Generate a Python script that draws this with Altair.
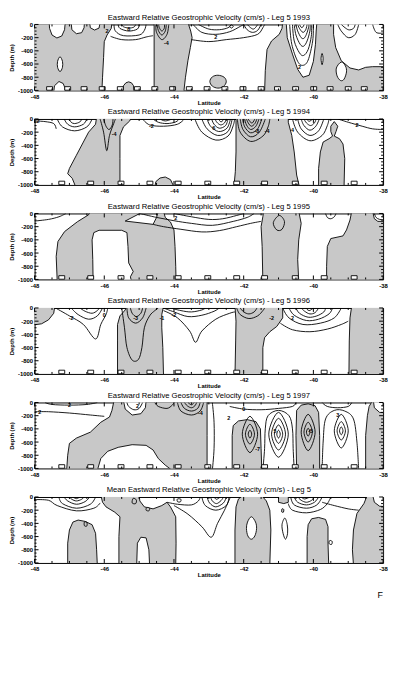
import altair as alt
import pandas as pd

W, H = 354, 67
FONT = "Liberation Sans"
GRAY = "#c8c8c8"

TITLES = [
    "Eastward Relative Geostrophic Velocity (cm/s) - Leg 5 1993",
    "Eastward Relative Geostrophic Velocity (cm/s) - Leg 5 1994",
    "Eastward Relative Geostrophic Velocity (cm/s) - Leg 5 1995",
    "Eastward Relative Geostrophic Velocity (cm/s) - Leg 5 1996",
    "Eastward Relative Geostrophic Velocity (cm/s) - Leg 5 1997",
    "Mean Eastward Relative Geostrophic Velocity (cm/s) - Leg 5",
]
X_TICKS = [-48, -46, -44, -42, -40, -38]
X_MINOR = [-47.5, -47, -46.5, -45.5, -45, -44.5, -43.5, -43, -42.5, -41.5, -41, -40.5, -39.5, -39, -38.5]
Y_TICKS = [0, -200, -400, -600, -800, -1000]
Y_MINOR = [-50, -100, -150, -250, -300, -350, -450, -500, -550, -650, -700, -750, -850, -900, -950]
STATION_DEPTH = -1000
STATIONS_1993 = [-47.57, -47.05, -46.58, -46.06, -45.54, -45.05, -44.55, -44.04, -43.56, -43.05,
                 -42.54, -42.02, -41.5, -41.03, -40.51, -39.99, -39.52, -39.0, -38.54]
STATIONS_LEG5 = [-47.22, -46.39, -45.52, -44.69, -43.88, -43.03, -42.2, -41.4, -40.52, -39.69, -38.83]

# ---------------- 1993 ----------------
P1_GRAY = [
    [-48.2, 30, -45.78, 30, -45.8, -60, -45.92, -160, -46.0, -260, -46.02, -500, -46.05, -800, -46.07, -1030, -48.2, -1030],
    [-45.46, -1030, -45.45, -930, -45.38, -885, -45.3, -870, -45.22, -885, -45.16, -930, -45.15, -1030],
    [-44.57, 30, -43.6, 30, -43.52, -100, -43.48, -200, -43.53, -350, -43.6, -550, -43.67, -800, -43.72, -1030, -44.57, -1030],
    [-41.4, -1030, -41.38, -700, -41.33, -380, -41.2, -250, -40.98, -150, -40.9, -60, -40.88, 30, -37.8, 30, -37.8, -1030],
]
P1_GRAY_ROUND = [
    [-42.74, -770, -42.56, -800, -42.5, -870, -42.58, -940, -42.74, -965, -42.9, -935, -42.97, -865, -42.9, -795],
]
P1_WHITE = [
    [-47.58, 30, -47.57, -60, -47.5, -160, -47.36, -205, -47.22, -175, -47.14, -80, -47.12, 30],
    [-46.95, 30, -46.93, -80, -46.8, -140, -46.65, -125, -46.58, -50, -46.57, 30],
    [-46.42, 30, -46.4, -50, -46.28, -85, -46.15, -55, -46.12, 30],
    [-47.45, -1030, -47.43, -930, -47.3, -865, -47.18, -895, -47.13, -960, -47.12, -1030],
    [-40.78, 30, -40.75, -200, -40.6, -450, -40.45, -680, -40.3, -800, -40.12, -770, -40.0, -560, -39.94, -300, -39.92, -100, -39.9, 30],
    [-39.42, 30, -39.42, -150, -39.36, -350, -39.2, -550, -38.95, -660, -38.7, -690, -38.5, -650, -38.3, -640, -37.8, -640, -37.8, 30],
]
P1_WHITE_ROUND = [
    [-47.27, -490, -47.2, -560, -47.2, -650, -47.27, -715, -47.34, -650, -47.34, -560],
    [-39.2, -570, -39.08, -630, -39.05, -720, -39.12, -830, -39.22, -850, -39.32, -780, -39.34, -660],
    [-39.75, -440, -39.72, -520, -39.75, -610, -39.78, -520],
]
P1_LINES = [
    [-45.6, 0, -45.55, -60, -45.3, -100, -45.05, -70, -45.0, 0],
    [-45.5, 0, -45.45, -35, -45.3, -55, -45.15, -40, -45.1, 0],
    [-45.72, 0, -45.68, -100, -45.45, -170, -45.0, -160, -44.85, -90, -44.8, 0],
    [-45.82, -180, -45.5, -230, -45.1, -230, -44.8, -190, -44.6, -170],
    [-44.52, 0, -44.5, -120, -44.35, -230, -44.2, -150, -44.15, 0],
    [-44.48, 0, -44.45, -90, -44.35, -160, -44.25, -100, -44.22, 0],
    [-44.44, 0, -44.42, -50, -44.35, -100, -44.28, -60, -44.27, 0],
    [-43.45, 0, -43.2, -120, -42.8, -150, -42.4, -110, -42.1, -30, -42.0, 0],
    [-43.3, 0, -43.0, -70, -42.7, -80, -42.45, -50, -42.35, 0],
    [-43.5, -230, -43.0, -260, -42.5, -230, -42.0, -200, -41.6, -150, -41.45, -50, -41.4, 0],
    [-42.0, 0, -41.9, -80, -41.75, -120, -41.6, -90, -41.5, 0],
    [-41.9, 0, -41.8, -50, -41.72, -70, -41.65, -40, -41.6, 0],
    [-40.68, 0, -40.62, -300, -40.45, -560, -40.3, -620, -40.15, -540, -40.02, -250, -40.0, 0],
    [-40.6, 0, -40.55, -250, -40.4, -430, -40.28, -470, -40.15, -380, -40.06, -180, -40.05, 0],
    [-40.55, 0, -40.5, -160, -40.38, -300, -40.28, -330, -40.18, -250, -40.1, -100, -40.09, 0],
    [-40.5, 0, -40.45, -100, -40.35, -200, -40.27, -210, -40.2, -150, -40.14, -50, -40.13, 0],
    [-40.45, 0, -40.4, -60, -40.3, -120, -40.22, -80, -40.18, 0],
    [-40.4, 0, -40.33, -50, -40.26, 0],
    [-39.3, 0, -39.2, -100, -39.0, -200, -38.8, -150, -38.7, 0],
    [-39.2, 0, -39.0, -80, -38.85, -60, -38.8, 0],
    [-38.3, 0, -38.2, -120, -38.0, -130],
]
P1_LOOPS = [
    [-42.35, -5, -42.3, -30, -42.35, -55, -42.4, -30],
]
P1_LABELS = [("2", -42.8, -185), ("-4", -44.22, -280), ("8", -45.3, -75), ("2", -40.4, -650), ("2", -45.92, -95)]

# ---------------- 1994 ----------------
P2_GRAY = [
    [-46.22, 30, -46.25, -80, -46.45, -200, -46.6, -350, -46.8, -550, -47.0, -750, -47.05, -830, -46.92, -900, -46.82, -1030,
     -45.55, -1030, -45.55, -600, -45.55, -250, -45.45, -120, -45.27, -30, -45.22, 30],
    [-44.55, -1030, -44.52, -950, -44.4, -895, -44.25, -880, -44.1, -920, -44.0, -1030],
    [-42.22, 30, -42.22, -500, -42.24, -800, -42.28, -1030, -40.4, -1030, -40.48, -850, -40.55, -500, -40.62, -250, -40.72, -50, -40.72, 30],
    [-39.4, -40, -39.3, -110, -39.35, -190, -39.4, -260, -39.25, -300, -39.15, -380, -39.1, -600, -39.12, -1030,
     -39.85, -1030, -39.85, -750, -39.8, -500, -39.72, -350, -39.55, -300, -39.45, -260, -39.5, -190, -39.5, -110],
]
P2_GRAY_ROUND = []
P2_WHITE = []
P2_WHITE_ROUND = []
P2_LINES = [
    [-47.35, 0, -47.2, -120, -46.85, -180, -46.5, -120, -46.35, 0],
    [-47.15, 0, -47.05, -80, -46.85, -120, -46.6, -80, -46.5, 0],
    [-47.0, 0, -46.95, -50, -46.85, -70, -46.7, -45, -46.65, 0],
    [-48.0, -30, -47.7, -40, -47.45, -70, -47.38, -150],
    [-46.12, 0, -46.02, -200, -45.93, -480, -45.85, -250, -45.73, -70, -45.68, 0],
    [-46.02, 0, -45.95, -110, -45.86, -160, -45.77, -90, -45.75, 0],
    [-44.9, 0, -44.7, -90, -44.3, -110, -43.9, -80, -43.7, 0],
    [-44.6, 0, -44.45, -50, -44.2, -70, -43.95, -45, -43.85, 0],
    [-44.4, 0, -44.25, -30, -44.05, 0],
    [-43.4, 0, -43.2, -200, -42.8, -320, -42.45, -260, -42.3, -100, -42.26, 0],
    [-43.2, 0, -43.05, -150, -42.75, -250, -42.45, -190, -42.33, 0],
    [-43.05, 0, -42.95, -110, -42.72, -190, -42.48, -140, -42.38, 0],
    [-42.92, 0, -42.85, -80, -42.7, -140, -42.52, -100, -42.45, 0],
    [-42.82, 0, -42.77, -50, -42.66, -90, -42.55, -60, -42.5, 0],
    [-42.72, 0, -42.65, -45, -42.56, 0],
    [-42.18, 0, -42.1, -200, -41.8, -340, -41.45, -260, -41.3, -120, -41.25, 0],
    [-42.1, 0, -42.02, -160, -41.8, -270, -41.55, -200, -41.38, 0],
    [-42.03, 0, -41.97, -120, -41.8, -210, -41.6, -150, -41.48, 0],
    [-41.97, 0, -41.92, -90, -41.8, -160, -41.65, -110, -41.56, 0],
    [-41.92, 0, -41.87, -60, -41.78, -110, -41.68, -70, -41.62, 0],
    [-41.87, 0, -41.82, -40, -41.75, -60, -41.68, 0],
    [-40.6, 0, -40.45, -200, -40.1, -330, -39.75, -250, -39.6, -100, -39.55, 0],
    [-40.45, 0, -40.35, -150, -40.1, -250, -39.85, -180, -39.7, 0],
    [-40.35, 0, -40.27, -100, -40.1, -170, -39.93, -110, -39.83, 0],
    [-40.27, 0, -40.2, -60, -40.08, -100, -39.97, -60, -39.92, 0],
    [-40.2, 0, -40.12, -35, -40.02, 0],
    [-39.3, 0, -39.0, -50, -38.6, -110, -38.3, -150, -38.0, -160],
]
P2_LOOPS = []
P2_LABELS = [("2", -47.9, -25), ("-4", -45.72, -230), ("-2", -44.65, -110), ("6", -42.86, -140),
             ("-8", -41.62, -190), ("-4", -41.33, -190), ("4", -40.6, -170), ("2", -38.75, -90)]

# ---------------- 1995 ----------------
P3_GRAY = [
    [-46.39, 30, -44.98, 30, -44.98, 0, -45.4, -115, -44.6, -165, -44.5, -60, -44.45, 30, -44.3, 30, -44.25, -60, -44.1, -130,
     -44.0, -250, -43.97, -500, -43.95, -800, -43.94, -1030, -47.35, -1030, -47.38, -650, -47.33, -425, -47.14, -275,
     -46.77, -125, -46.45, -20],
    [-41.43, 30, -40.42, 30, -40.35, -150, -40.42, -400, -40.45, -700, -40.42, -1030, -41.45, -1030, -41.47, -500, -41.5, -200, -41.45, -50],
    [-39.62, -1030, -39.62, -800, -39.6, -500, -39.5, -380, -39.15, -340, -39.05, -250, -38.95, -100, -38.9, 30, -38.3, 30,
     -38.25, -80, -38.15, -120, -37.8, -120, -37.8, -1030],
]
P3_GRAY_ROUND = []
P3_WHITE = [
    [-46.32, -1030, -46.33, -700, -46.35, -400, -46.3, -290, -46.15, -255, -45.5, -255, -45.35, -290, -45.32, -500,
     -45.3, -750, -45.17, -880, -45.25, -960, -45.22, -1030],
]
P3_WHITE_ROUND = []
P3_LINES = [
    [-48.0, -115, -47.6, -90, -47.3, -50, -47.1, 0],
    [-44.6, -165, -44.3, -200, -43.8, -240, -43.2, -280, -42.7, -260, -42.2, -200, -41.8, -150, -41.5, -120],
    [-44.98, 0, -44.5, -60, -44.0, -110, -43.5, -150, -42.9, -180, -42.3, -120, -41.9, -60, -41.7, 0],
    [-44.0, 0, -43.5, -50, -43.0, -90, -42.6, -80, -42.2, -30, -42.0, 0],
    [-39.65, 0, -39.6, -60, -39.5, -80, -39.4, -50, -39.35, 0],
    [-38.25, 0, -38.2, -60, -38.1, -90, -37.95, -100],
]
P3_LOOPS = [
    [-40.98, -30, -40.83, -120, -40.9, -240, -41.05, -250, -41.15, -140],
]
P3_LABELS = [("2", -43.95, -70)]

# ---------------- 1996 ----------------
P4_GRAY = [
    [-48.2, 30, -47.42, 30, -47.45, -80, -47.6, -180, -47.8, -240, -48.2, -270],
    [-45.62, -1030, -45.62, -500, -45.62, -250, -45.55, -120, -45.4, -30, -45.35, 30, -44.3, 30, -44.35, -100, -44.35, -300, -44.32, -600, -44.3, -1030],
    [-42.25, 30, -40.88, 30, -40.88, -150, -41.05, -280, -41.25, -360, -41.4, -450, -41.45, -600, -41.45, -1030, -42.25, -1030, -42.23, -500, -42.22, -200],
    [-38.9, 30, -38.95, -150, -38.97, -500, -38.98, -1030, -37.8, -1030, -37.8, 30],
]
P4_GRAY_ROUND = []
P4_WHITE = []
P4_WHITE_ROUND = []
P4_LINES = [
    [-47.4, 0, -47.0, -120, -46.6, -250, -46.25, -470, -46.1, -250, -45.95, -100, -45.9, 0],
    [-46.95, 0, -46.75, -100, -46.45, -170, -46.2, -120, -46.05, 0],
    [-46.7, 0, -46.55, -50, -46.35, -80, -46.2, -40, -46.15, 0],
    [-45.35, 0, -45.3, -150, -45.1, -230, -44.9, -150, -44.8, 0],
    [-45.25, 0, -45.2, -80, -45.08, -130, -44.95, -80, -44.9, 0],
    [-45.5, 0, -45.42, -300, -45.35, -600, -45.2, -790, -45.02, -780, -44.92, -600, -44.85, -300, -44.7, -120, -44.55, -40, -44.45, 0],
    [-44.3, -40, -43.9, -150, -43.55, -350, -43.38, -520, -43.2, -350, -42.8, -170, -42.4, -80, -42.25, -60],
    [-44.3, 0, -44.0, -60, -43.6, -130, -43.2, -110, -42.85, -50, -42.7, 0],
    [-44.1, 0, -43.8, -40, -43.5, -60, -43.2, -30, -43.1, 0],
    [-42.2, 0, -42.1, -100, -41.85, -160, -41.6, -120, -41.45, -40, -41.4, 0],
    [-42.1, 0, -42.0, -60, -41.85, -90, -41.7, -60, -41.62, 0],
    [-40.88, 0, -40.7, -150, -40.3, -250, -39.8, -230, -39.4, -150, -39.2, 0],
    [-40.7, 0, -40.55, -110, -40.2, -190, -39.85, -170, -39.55, -90, -39.45, 0],
    [-40.5, 0, -40.4, -80, -40.15, -140, -39.9, -120, -39.7, -60, -39.65, 0],
    [-40.35, 0, -40.25, -50, -40.1, -90, -39.95, -70, -39.85, 0],
    [-40.22, 0, -40.12, -40, -40.0, 0],
    [-40.95, -230, -40.6, -330, -40.1, -360, -39.6, -320, -39.2, -250, -39.0, -200],
]
P4_LOOPS = []
P4_LABELS = [("-2", -46.95, -150), ("0", -46.0, -110), ("-3", -45.1, -160), ("-1", -44.35, -160),
             ("-2", -44.0, -100), ("-2", -41.2, -150), ("2", -40.6, -160)]

# ---------------- 1997 ----------------
P5_GRAY = [
    [-47.08, -1030, -47.05, -800, -47.0, -620, -46.8, -540, -46.4, -450, -46.1, -300, -45.85, -220, -45.78, -120, -45.72, 30,
     -43.05, 30, -43.05, -500, -43.05, -1030, -44.05, -1030, -44.25, -950, -44.45, -850, -44.6, -720, -44.8, -650, -45.2, -640,
     -45.6, -680, -45.9, -740, -46.1, -850, -46.2, -1030],
    [-42.33, -1030, -42.33, -500, -42.3, -350, -42.15, -280, -41.9, -260, -41.65, -290, -41.52, -400, -41.5, -700, -41.48, -1030],
    [-40.48, -1030, -40.5, -500, -40.48, -120, -40.35, -40, -40.15, -20, -39.95, -50, -39.85, -150, -39.82, -500, -39.82, -1030],
    [-38.5, -1030, -38.5, -500, -38.45, -200, -38.4, -60, -38.3, 30, -37.8, 30, -37.8, -1030],
]
P5_GRAY_ROUND = []
P5_WHITE = [
    [-45.45, 30, -45.4, -100, -45.2, -190, -44.95, -170, -44.82, -80, -44.8, 30],
    [-38.28, 30, -38.25, -80, -38.1, -150, -37.8, -160, -37.8, 30],
]
P5_WHITE_ROUND = []
P5_LINES = [
    [-48.0, -140, -47.6, -140, -47.0, -160, -46.4, -190, -46.0, -210],
    [-47.7, 0, -47.5, -30, -47.0, -40, -46.5, -30, -46.2, 0],
    [-45.35, 0, -45.3, -60, -45.15, -110, -45.0, -90, -44.9, 0],
    [-44.55, 0, -44.45, -60, -44.2, -90, -44.05, -40, -44.0, 0],
    [-43.9, 0, -43.8, -130, -43.5, -190, -43.25, -130, -43.15, 0],
    [-43.8, 0, -43.7, -90, -43.5, -130, -43.32, -90, -43.25, 0],
    [-43.7, 0, -43.62, -50, -43.5, -80, -43.4, -50, -43.35, 0],
    [-43.6, 0, -43.5, -35, -43.42, 0],
    [-42.9, 0, -42.85, -300, -42.85, -700, -42.9, -1030],
    [-42.4, -60, -42.0, -100, -41.5, -110, -41.0, -90, -40.6, -60, -40.5, 0],
    [-41.45, -1030, -41.4, -700, -41.38, -400, -41.3, -200, -41.0, -120, -40.7, -200, -40.6, -400, -40.58, -700, -40.55, -1030],
    [-39.75, -1030, -39.72, -600, -39.65, -250, -39.4, -120, -39.1, -130, -38.85, -250, -38.75, -600, -38.7, -1030],
    [-39.75, 0, -39.6, -60, -39.3, -80, -39.0, -60, -38.9, 0],
]
P5_LOOPS = [
    [-41.82, -420, -41.77, -480, -41.82, -540, -41.87, -480],
    [-41.82, -330, -41.69, -480, -41.82, -630, -41.95, -480],
    [-41.82, -210, -41.6, -480, -41.82, -760, -42.04, -480],
    [-41.0, -420, -40.95, -480, -41.0, -540, -41.05, -480],
    [-41.0, -340, -40.88, -480, -41.0, -620, -41.12, -480],
    [-41.0, -240, -40.8, -480, -41.0, -720, -41.2, -480],
    [-41.0, -150, -40.72, -480, -41.0, -830, -41.28, -480],
    [-40.15, -390, -40.1, -450, -40.15, -510, -40.2, -450],
    [-40.15, -300, -40.03, -450, -40.15, -600, -40.27, -450],
    [-40.15, -180, -39.95, -450, -40.15, -730, -40.35, -450],
    [-39.2, -370, -39.15, -430, -39.2, -490, -39.25, -430],
    [-39.2, -290, -39.08, -430, -39.2, -570, -39.32, -430],
    [-39.2, -180, -39.0, -430, -39.2, -690, -39.4, -430],
]
P5_LABELS = [("2", -47.85, -140), ("2", -47.0, -45), ("2", -45.05, -60), ("-4", -43.24, -165), ("2", -42.43, -240),
             ("0", -42.0, -100), ("-7", -41.6, -700), ("5", -41.1, -440), ("-5", -40.08, -440), ("3", -39.3, -190)]

# ---------------- Mean ----------------
P6_GRAY = [
    [-47.05, -1030, -47.05, -700, -47.0, -500, -46.9, -380, -46.75, -350, -46.55, -370, -46.35, -420, -46.25, -550, -46.22, -800, -46.2, -1030],
    [-46.1, 30, -45.0, 30, -44.98, -60, -44.85, -150, -44.6, -180, -44.35, -130, -44.2, -80, -44.1, -150, -43.95, -300, -43.94, -700,
     -43.95, -1030, -44.7, -1030, -44.72, -800, -44.8, -620, -44.95, -610, -45.05, -700, -45.07, -1030, -45.58, -1030,
     -45.58, -600, -45.55, -300, -45.7, -230, -45.95, -150, -46.05, -80],
    [-42.25, -1030, -42.25, -500, -42.22, -150, -42.15, -30, -42.0, 30, -41.5, 30, -41.35, -60, -41.25, -200, -41.22, -500, -41.25, -1030],
    [-41.0, 30, -41.0, -80, -40.85, -100, -40.72, -80, -40.72, 30],
    [-40.18, -1030, -40.18, -600, -40.15, -420, -40.05, -330, -39.85, -310, -39.65, -340, -39.58, -450, -39.58, -700, -39.56, -1030],
    [-38.45, 30, -38.55, -100, -38.75, -250, -38.85, -500, -38.88, -800, -38.85, -1030, -37.8, -1030, -37.8, 30],
]
P6_GRAY_ROUND = [
    [-40.9, -180, -40.85, -190, -40.86, -230, -40.91, -225],
    [-44.78, -160, -44.7, -170, -44.72, -210, -44.8, -200],
]
P6_WHITE = [
    [-38.3, 30, -38.25, -80, -38.1, -140, -37.8, -150, -37.8, 30],
]
P6_WHITE_ROUND = [
    [-41.78, -300, -41.66, -380, -41.63, -480, -41.68, -590, -41.78, -640, -41.88, -590, -41.92, -480, -41.89, -380],
]
P6_LINES = [
    [-47.3, 0, -47.2, -100, -46.8, -170, -46.4, -110, -46.25, 0],
    [-47.15, 0, -47.05, -60, -46.8, -110, -46.55, -70, -46.42, 0],
    [-47.0, 0, -46.93, -35, -46.8, -60, -46.65, -35, -46.58, 0],
    [-46.9, 0, -46.8, -25, -46.7, 0],
    [-48.0, -40, -47.6, -50, -47.35, -130, -46.8, -210, -46.3, -170, -46.12, -90],
    [-44.0, -130, -43.6, -260, -43.2, -450, -42.93, -610, -42.75, -400, -42.55, -200, -42.38, 0],
    [-43.2, 0, -43.1, -130, -42.8, -200, -42.5, -130, -42.42, 0],
    [-43.05, 0, -42.98, -90, -42.8, -150, -42.58, -90, -42.5, 0],
    [-42.95, 0, -42.9, -60, -42.78, -100, -42.65, -55, -42.58, 0],
    [-42.85, 0, -42.78, -35, -42.67, 0],
    [-44.2, -80, -43.9, -110, -43.5, -120, -43.3, -60, -43.25, 0],
    [-40.72, -100, -40.6, -200, -40.2, -240, -39.8, -190, -39.6, -100, -39.5, 0],
    [-40.65, 0, -40.55, -120, -40.2, -170, -39.9, -120, -39.75, 0],
    [-40.55, 0, -40.45, -80, -40.2, -120, -39.97, -80, -39.85, 0],
    [-40.45, 0, -40.35, -50, -40.2, -80, -40.05, -50, -39.98, 0],
    [-40.35, 0, -40.25, -30, -40.1, 0],
    [-39.75, -80, -39.4, -130, -39.0, -180, -38.7, -200],
]
P6_LOOPS = [
    [-40.82, -320, -40.75, -420, -40.74, -550, -40.8, -640, -40.87, -550, -40.9, -420],
    [-45.17, -20, -45.08, -45, -45.1, -100, -45.2, -90],
    [-43.9, -30, -43.8, -35, -43.82, -75, -43.9, -70],
    [-39.53, -660, -39.46, -675, -39.48, -720, -39.55, -705],
    [-46.57, -380, -46.5, -385, -46.5, -440, -46.57, -435],
]
P6_LABELS = []
F_MARK = ("F", -38.08, -1480)

PANELS = [
    dict(title=TITLES[0], gray=P1_GRAY, gray_round=P1_GRAY_ROUND, white=P1_WHITE, white_round=P1_WHITE_ROUND,
         lines=P1_LINES, loops=P1_LOOPS, labels=P1_LABELS, stations=STATIONS_1993),
    dict(title=TITLES[1], gray=P2_GRAY, gray_round=P2_GRAY_ROUND, white=P2_WHITE, white_round=P2_WHITE_ROUND,
         lines=P2_LINES, loops=P2_LOOPS, labels=P2_LABELS, stations=STATIONS_LEG5),
    dict(title=TITLES[2], gray=P3_GRAY, gray_round=P3_GRAY_ROUND, white=P3_WHITE, white_round=P3_WHITE_ROUND,
         lines=P3_LINES, loops=P3_LOOPS, labels=P3_LABELS, stations=STATIONS_LEG5),
    dict(title=TITLES[3], gray=P4_GRAY, gray_round=P4_GRAY_ROUND, white=P4_WHITE, white_round=P4_WHITE_ROUND,
         lines=P4_LINES, loops=P4_LOOPS, labels=P4_LABELS, stations=STATIONS_LEG5),
    dict(title=TITLES[4], gray=P5_GRAY, gray_round=P5_GRAY_ROUND, white=P5_WHITE, white_round=P5_WHITE_ROUND,
         lines=P5_LINES, loops=P5_LOOPS, labels=P5_LABELS, stations=STATIONS_LEG5),
    dict(title=TITLES[5], gray=P6_GRAY, gray_round=P6_GRAY_ROUND, white=P6_WHITE, white_round=P6_WHITE_ROUND,
         lines=P6_LINES, loops=P6_LOOPS, labels=P6_LABELS, stations=[]),
]

X_SCALE = alt.Scale(domain=[-48, -38], nice=False, zero=False)
Y_SCALE = alt.Scale(domain=[-1000, 0], nice=False, zero=False)
AXIS_STYLE = dict(ticks=False, domain=False, grid=False, labelFontSize=6, titleFontSize=6, labelFont=FONT,
                  titleFont=FONT, labelFontWeight="bold", titleFontWeight="bold", labelColor="black",
                  titleColor="black", labelExpr="'' + datum.value", labelFlush=False)
X_AXIS = alt.Axis(values=X_TICKS, title="Latitude", labelPadding=3, titlePadding=0, **AXIS_STYLE)
Y_AXIS = alt.Axis(values=Y_TICKS, title="Depth (m)", labelPadding=2, titlePadding=3, **AXIS_STYLE)


def X(field):
    return alt.X(f"{field}:Q", scale=X_SCALE, axis=X_AXIS)


def Y(field):
    return alt.Y(f"{field}:Q", scale=Y_SCALE, axis=Y_AXIS)


def shapes_frame(shapes):
    rows = []
    for i, s in enumerate(shapes):
        for j in range(0, len(s), 2):
            rows.append((i, j // 2, s[j], s[j + 1]))
    return pd.DataFrame(rows, columns=["id", "seq", "lat", "depth"])


def shape_layer(shapes, interp, fill=None):
    kw = dict(interpolate=interp, stroke="black", strokeWidth=0.9, clip=True, strokeJoin="round")
    if fill is not None:
        kw["fill"] = fill
    return alt.Chart(shapes_frame(shapes)).mark_line(**kw).encode(
        x=X("lat"), y=Y("depth"), detail="id:N", order="seq:Q")


def rule_y(values, x0, x1):
    return alt.Chart(pd.DataFrame({"v": values})).mark_rule(stroke="black", strokeWidth=1).encode(
        y=Y("v"), x=alt.value(x0), x2=alt.value(x1))


def rule_x(values, y0, y1):
    return alt.Chart(pd.DataFrame({"v": values})).mark_rule(stroke="black", strokeWidth=1).encode(
        x=X("v"), y=alt.value(y0), y2=alt.value(y1))


RECT_SHAPE = "M-1,-0.6L1,-0.6L1,0.6L-1,0.6Z"


def panel(p, last=False):
    layers = []
    if p["gray"]:
        layers.append(shape_layer(p["gray"], "linear-closed", GRAY))
    if p["gray_round"]:
        layers.append(shape_layer(p["gray_round"], "cardinal-closed", GRAY))
    if p["white"]:
        layers.append(shape_layer(p["white"], "linear-closed", "white"))
    if p["white_round"]:
        layers.append(shape_layer(p["white_round"], "cardinal-closed", "white"))
    if p["lines"]:
        layers.append(shape_layer(p["lines"], "cardinal"))
    if p["loops"]:
        layers.append(shape_layer(p["loops"], "cardinal-closed"))
    if p["labels"]:
        ldf = pd.DataFrame(p["labels"], columns=["t", "lat", "depth"])
        layers.append(alt.Chart(ldf).mark_text(fontSize=5.5, font=FONT, fontWeight="bold", color="black", clip=True).encode(
            x=X("lat"), y=Y("depth"), text="t:N"))
    if p["stations"]:
        sdf = pd.DataFrame({"lat": p["stations"], "depth": [STATION_DEPTH] * len(p["stations"])})
        layers.append(alt.Chart(sdf).mark_point(shape=RECT_SHAPE, size=36, filled=True, fill="white", stroke="black",
                                                strokeWidth=0.9, opacity=1, yOffset=-2).encode(x=X("lat"), y=Y("depth")))
    layers += [
        rule_y(Y_TICKS, 0, 4), rule_y(Y_TICKS, W, W - 4),
        rule_y(Y_MINOR, 0, 2), rule_y(Y_MINOR, W, W - 2),
        rule_x(X_TICKS, H, H - 4), rule_x(X_TICKS, 0, 4),
        rule_x(X_MINOR, H, H - 2), rule_x(X_MINOR, 0, 2),
    ]
    if last:
        fdf = pd.DataFrame([F_MARK], columns=["t", "lat", "depth"])
        layers.append(alt.Chart(fdf).mark_text(fontSize=9, font=FONT, color="black", clip=False,
                                               align="center", baseline="middle").encode(
            x=X("lat"), y=Y("depth"), text="t:N"))
    return alt.layer(*layers).properties(
        width=W, height=H,
        title=alt.TitleParams(p["title"], fontSize=7.8, font=FONT, fontWeight="normal", color="black", offset=0, anchor="middle"))


charts = [panel(p, last=(i == len(PANELS) - 1)) for i, p in enumerate(PANELS)]
chart = alt.vconcat(*charts, spacing=1).properties(
    padding={"left": 0, "top": 0, "right": 0, "bottom": 0}
).configure_view(stroke="black", strokeWidth=1)

chart.save("out.html", embed_options={"renderer": "svg", "actions": False})
